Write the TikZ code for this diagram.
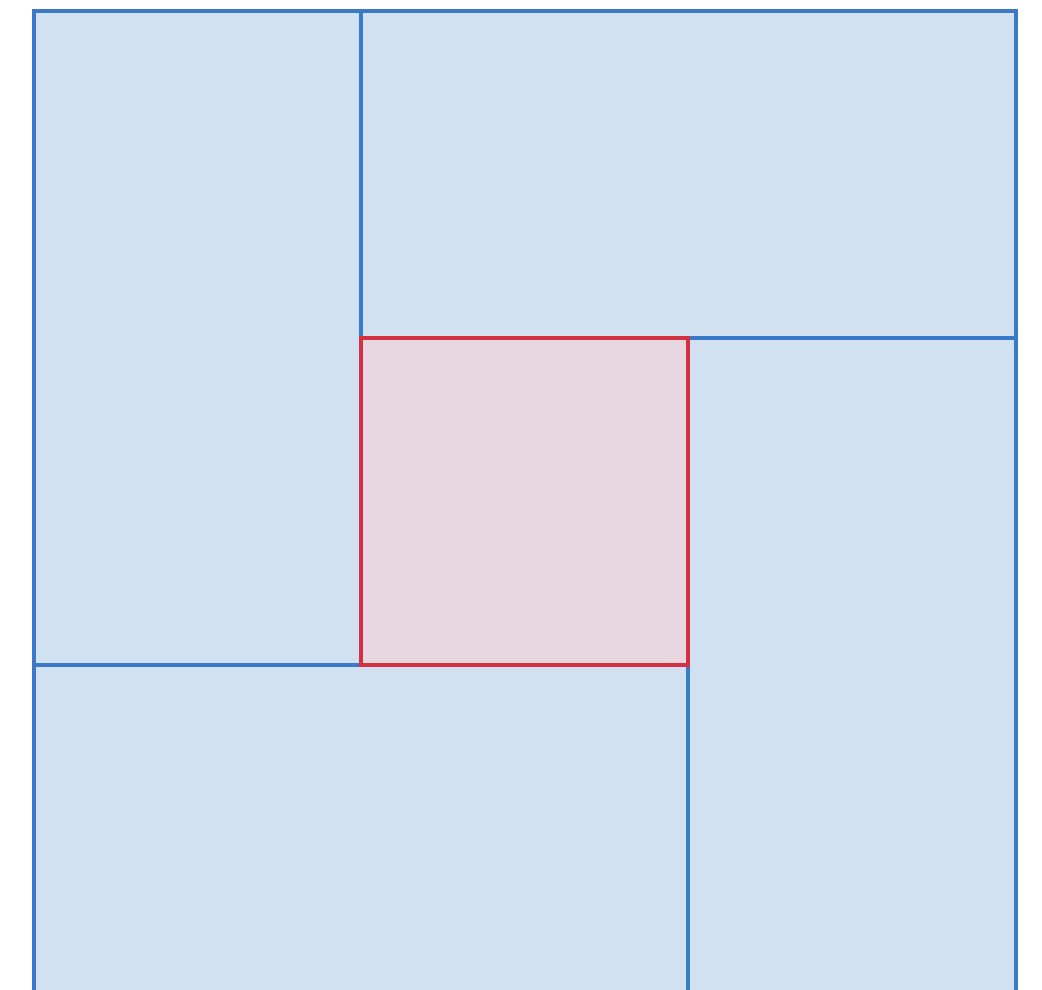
\documentclass[tikz,border=0pt]{standalone}
\definecolor{bfill}{HTML}{D1E1F2}
\definecolor{bline}{HTML}{3A78C8}
\definecolor{rfill}{HTML}{E8D7E0}
\definecolor{rline}{HTML}{D43042}
\tikzset{
  bluerect/.style={fill=bfill, draw=bline, line width=3.2pt},
  redrect/.style={fill=rfill, draw=rline, line width=3.2pt}
}
\begin{document}
\begin{tikzpicture}[x=1pt,y=-1pt]
\useasboundingbox (0,0) rectangle (1042,990);
\begin{scope}
\clip (0,0) rectangle (1042,990);
\draw[bluerect] (34,11) rectangle (361,665);
\draw[bluerect] (361,11) rectangle (1016,338);
\draw[bluerect] (688,338) rectangle (1016,994);
\draw[bluerect] (34,665) rectangle (688,994);
\draw[redrect] (361,338) rectangle (688,665);
\end{scope}
\end{tikzpicture}
\end{document}
